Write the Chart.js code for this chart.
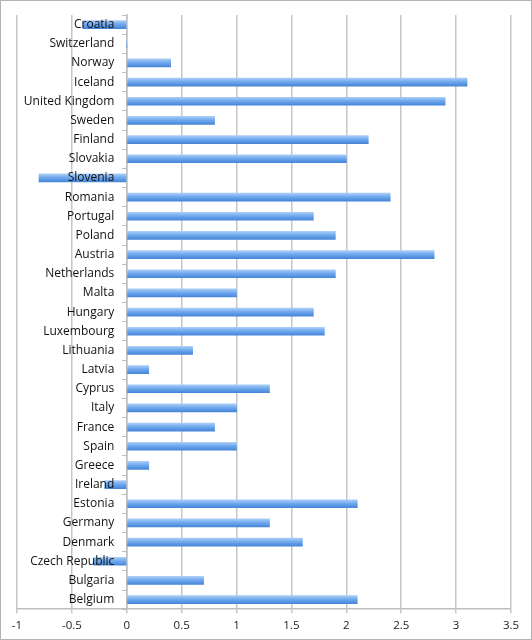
<!DOCTYPE html>
<html>
<head>
<meta charset="utf-8">
<script src="https://cdn.jsdelivr.net/npm/chart.js@4/dist/chart.umd.min.js"></script>
<style>
  html, body { margin: 0; padding: 0; background: #fff; }
  #wrap { position: relative; width: 530px; height: 638px; border: 1px solid #b4b4b4; }
  canvas { display: block; }
</style>
</head>
<body>
<div id="wrap"><canvas id="chart" width="530" height="638"></canvas></div>
<script>
// countries, top to bottom as in the picture
var countries = ['Croatia', 'Switzerland', 'Norway', 'Iceland', 'United Kingdom', 'Sweden',
    'Finland', 'Slovakia', 'Slovenia', 'Romania', 'Portugal', 'Poland', 'Austria',
    'Netherlands', 'Malta', 'Hungary', 'Luxembourg', 'Lithuania', 'Latvia', 'Cyprus',
    'Italy', 'France', 'Spain', 'Greece', 'Ireland', 'Estonia', 'Germany', 'Denmark',
    'Czech Republic', 'Bulgaria', 'Belgium'];

var values = [-0.4, 0, 0.4, 3.1, 2.9, 0.8,
    2.2, 2.0, -0.8, 2.4, 1.7, 1.9, 2.8,
    1.9, 1.0, 1.7, 1.8, 0.6, 0.2, 1.3,
    1.0, 0.8, 1.0, 0.2, -0.2, 2.1, 1.3, 1.6,
    -0.3, 0.7, 2.1];

var xMin = -1, xMax = 3.5, xStep = 0.5;

const canvas = document.getElementById('chart');
var ctx = canvas.getContext('2d');

// vertical gradient for each bar, like the old excel look
barFill = (c) => {
    var yScale = c.chart.scales.y;
    if (!yScale || c.dataIndex === undefined) return '#6aa5ee';
    var yc = yScale.getPixelForValue(c.dataIndex);
    if (!isFinite(yc)) return '#6aa5ee';
    var g = c.chart.ctx.createLinearGradient(0, yc - 4, 0, yc + 4);
    g.addColorStop(0, '#aacdf6');
    g.addColorStop(0.45, '#70a9ee');
    g.addColorStop(1, '#4686d8');
    return g;
}

var myChart = new Chart(ctx, {
    type: 'bar',
    data: {
        labels: countries,
        datasets: [{
            data: values,
            backgroundColor: barFill,
            borderWidth: 0,
            barThickness: 8
        }]
    },
    options: {
        indexAxis: 'y',
        responsive: false,
        animation: false,
        layout: { padding: { left: 16, right: 20, top: 14, bottom: 0 } },
        plugins: {
            legend: { display: false },
            tooltip: { enabled: false }
        },
        scales: {
            x: {
                min: xMin,
                max: xMax,
                ticks: {
                    stepSize: xStep,
                    color: '#222',
                    font: { family: 'Open Sans', size: 11.5 },
                    padding: 6,
                    callback: (v) => String(v)
                },
                grid: {
                    color: '#c6c6c6',
                    lineWidth: 1.5,
                    tickLength: 4,
                    tickColor: '#c6c6c6'
                },
                border: { color: '#bdbdbd', width: 1.5 }
            },
            y: {
                position: { x: 0 },
                offset: true,
                ticks: {
                    z: 1,
                    color: '#111',
                    font: { family: 'Open Sans', size: 12 },
                    autoSkip: false,
                    // axis at x=0 ignores padding, so pad the text itself
                    callback: function (v) { return this.getLabelForValue(v) + '    '; }
                },
                grid: {
                    offset: true,
                    drawOnChartArea: false,
                    tickLength: 4,
                    tickColor: '#bdbdbd',
                    lineWidth: 1
                },
                border: { color: '#bdbdbd', width: 1.5 }
            }
        }
    }
});
</script>
</body>
</html>
